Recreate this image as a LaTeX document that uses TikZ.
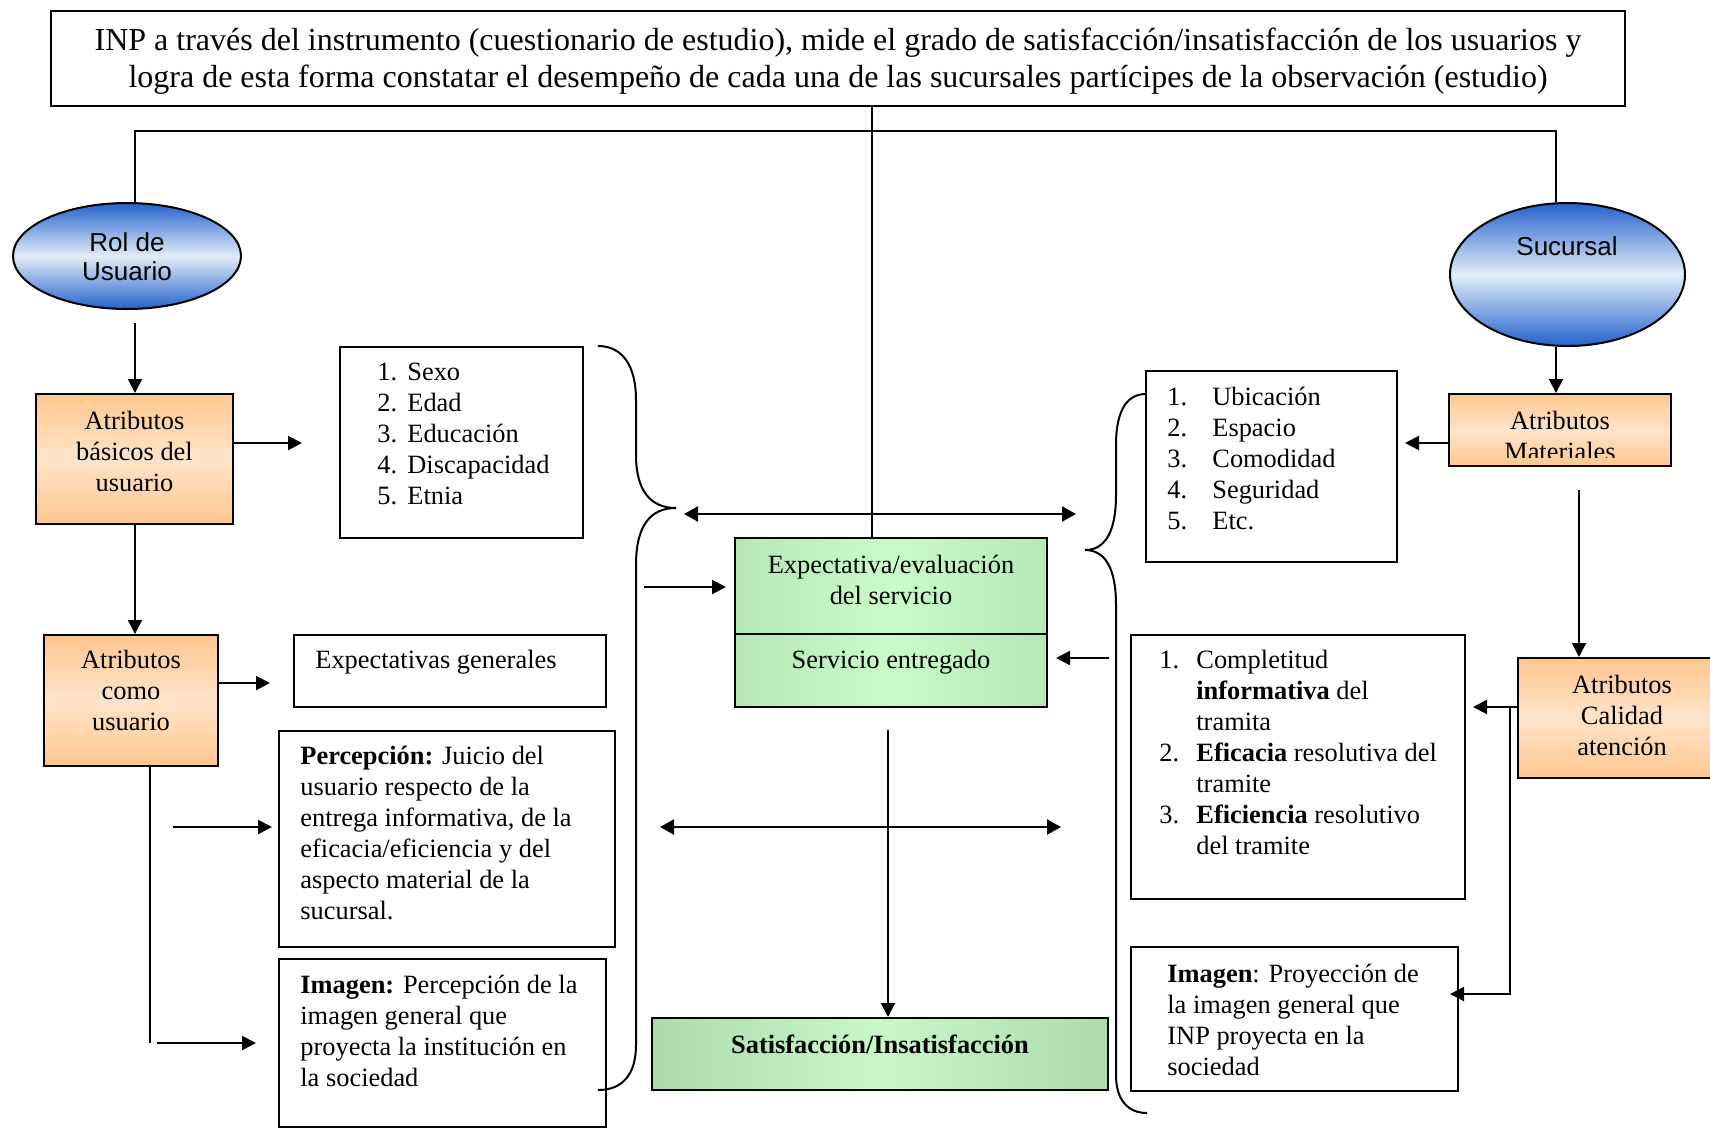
\documentclass[tikz,border=0pt]{standalone}
\usepackage{fontspec}
\setmainfont{Liberation Serif}
\newfontfamily\arialf{Liberation Sans}
\usetikzlibrary{arrows.meta,fit,shapes.geometric}

\definecolor{eblue}{HTML}{2462CC}
\definecolor{elight}{HTML}{E2EDF8}
\definecolor{oedge}{HTML}{FFC68E}
\definecolor{omid}{HTML}{FFE4CA}
\definecolor{gA}{HTML}{C8FBC8}
\definecolor{gB}{HTML}{B6E8B6}
\definecolor{sA}{HTML}{ACDBAC}
\definecolor{sB}{HTML}{C8F8C8}

\newcommand\fs{\fontsize{13.2pt}{15.5pt}\selectfont}
\newcommand\fstop{\fontsize{16pt}{18.5pt}\selectfont}
\newcommand\fsans{\arialf\fontsize{13pt}{14.5pt}\selectfont}

\begin{document}
\begin{tikzpicture}[x=0.5pt,y=-0.5pt,
  box/.style={draw, line width=1pt, inner sep=0pt},
  txt/.style={inner sep=0pt, font=\fs, align=left},
  ctxt/.style={inner sep=0pt, font=\fs, align=center},
  ln/.style={line width=1pt},
  arr/.style={line width=1pt, -{Triangle[length=7pt,width=7pt]}},
  darr/.style={line width=1pt, {Triangle[length=7pt,width=7.5pt]}-{Triangle[length=7pt,width=7.5pt]}},
  orangebox/.style={box, top color=oedge, bottom color=oedge, middle color=omid},
  greenbox/.style={box, left color=gB, right color=gB, middle color=gA},
  satbox/.style={box, left color=sA, right color=sA, middle color=sB},
  ell/.style={ellipse, draw, line width=1pt, inner sep=0pt, top color=eblue, bottom color=eblue, middle color=elight},
  bracel/.style={line width=1pt}
]
\clip (0,0) rectangle (1710,1132);
\fill[white] (0,0) rectangle (1710,1132);

% ---------- top box ----------
\node[box, fit={(51,11) (1625,106)}] (top) {};
\node[inner sep=0pt, font=\fstop, align=center, anchor=north] (toptxt) at (838,24.1)
  {\strut INP a través del instrumento (cuestionario de estudio), mide el grado de satisfacción/insatisfacción de los usuarios y\\
   logra de esta forma constatar el desempeño de cada una de las sucursales partícipes de la observación (estudio)};

% ---------- ellipses ----------
\node[ell, minimum width=114pt, minimum height=53pt] (rol) at (127,256) {};
\node[inner sep=0pt, font=\fsans, align=center, anchor=north] (roltxt) at (127,230.7) {\strut Rol de\\Usuario};
\node[ell, minimum width=117.5pt, minimum height=71.5pt] (suc) at (1567.5,274.5) {};
\node[inner sep=0pt, font=\fsans, anchor=base] (suctxt) at (1567,255) {Sucursal};

% ---------- orange boxes ----------
\node[orangebox, fit={(36,394) (233,524)}] (b1) {};
\node[ctxt, anchor=north] (b1txt) at (134.5,407.3) {\strut Atributos\\básicos del\\usuario};
\node[orangebox, fit={(44,635) (218,766)}] (b2) {};
\node[ctxt, anchor=north] (b2txt) at (131,646.3) {\strut Atributos\\como\\usuario};
\node[orangebox, fit={(1449,394) (1671,466)}] (mat) {};
\begin{scope}
  \clip (1449,394) rectangle (1671,457);
  \node[ctxt, anchor=north] (mattxt) at (1560,407.3) {\strut Atributos\\Materiales};
\end{scope}
\node[orangebox, fit={(1518,658) (1726,778)}] (cal) {};
\node[ctxt, anchor=north] (caltxt) at (1622,671.3) {\strut Atributos\\Calidad\\atención};

% ---------- left white boxes ----------
\node[box, fit={(340,347) (583,538)}] (sexo) {};
\node[txt, anchor=north west] (sexotxt) at (377,358.3)
  {\strut\makebox[15pt][l]{1.}Sexo\\\makebox[15pt][l]{2.}Edad\\\makebox[15pt][l]{3.}Educación\\\makebox[15pt][l]{4.}Discapacidad\\\makebox[15pt][l]{5.}Etnia};
\node[box, fit={(294,635) (606,707)}] (exgen) {};
\node[inner sep=0pt, font=\fs, anchor=base west] (exgentxt) at (315,668) {Expectativas generales};
\node[box, fit={(279,731) (615,947)}] (perc) {};
\node[txt, anchor=north west] (perctxt) at (300,742.3)
  {\strut\textbf{Percepción:} Juicio del\\usuario respecto de la\\entrega informativa, de la\\eficacia/eficiencia y del\\aspecto material de la\\sucursal.};
\node[box, fit={(279,959) (606,1127)}] (img1) {};
\node[txt, anchor=north west] (img1txt) at (300,971.3)
  {\strut\textbf{Imagen:} Percepción de la\\imagen general que\\proyecta la institución en\\la sociedad};

% ---------- right white boxes ----------
\node[box, fit={(1146,371) (1397,562)}] (ubic) {};
\node[txt, anchor=north west] (ubictxt) at (1167,383.3)
  {\strut\makebox[22.5pt][l]{1.}Ubicación\\\makebox[22.5pt][l]{2.}Espacio\\\makebox[22.5pt][l]{3.}Comodidad\\\makebox[22.5pt][l]{4.}Seguridad\\\makebox[22.5pt][l]{5.}Etc.};
\node[box, fit={(1131,635) (1465,899)}] (comp) {};
\node[txt, anchor=north west] (comptxt) at (1159,646.3)
  {\strut\makebox[18.5pt][l]{1.}Completitud\\\hspace*{18.5pt}\textbf{informativa} del\\\hspace*{18.5pt}tramita\\
   \makebox[18.5pt][l]{2.}\textbf{Eficacia} resolutiva del\\\hspace*{18.5pt}tramite\\
   \makebox[18.5pt][l]{3.}\textbf{Eficiencia} resolutivo\\\hspace*{18.5pt}del tramite};
\node[box, fit={(1131,947) (1458,1091)}] (img2) {};
\node[txt, anchor=north west] (img2txt) at (1167,960.3)
  {\strut\textbf{Imagen}: Proyección de\\la imagen general que\\INP proyecta en la\\sociedad};

% ---------- green boxes ----------
\node[greenbox, fit={(735,538) (1047,634)}] (exp) {};
\node[ctxt, anchor=north] (exptxt) at (891,551.3) {\strut Expectativa/evaluación\\del servicio};
\node[greenbox, fit={(735,634) (1047,707)}] (serv) {};
\node[inner sep=0pt, font=\fs, anchor=base] (servtxt) at (891,668) {Servicio entregado};
\node[satbox, fit={(652,1018) (1108,1090)}] (sat) {};
\node[inner sep=0pt, font=\fs\bfseries, anchor=base] (sattxt) at (880,1053) {Satisfacción/Insatisfacción};

% ---------- junction coordinates ----------
\coordinate (jc) at (872,131);
\coordinate (jl) at (135,131);
\coordinate (jr) at (1556,131);
\coordinate (a1) at (302,443);
\coordinate (a2) at (270,683);
\coordinate (v1) at (150,1043);
\coordinate (a3s) at (157,1043);
\coordinate (a3e) at (256,1043);
\coordinate (a4s) at (173,827);
\coordinate (a4e) at (272,827);
\coordinate (d1l) at (684,514);
\coordinate (d1r) at (1076,514);
\coordinate (a5s) at (644,587);
\coordinate (a6s) at (1109,658);
\coordinate (a7s) at (888,730);
\coordinate (d2l) at (660,827);
\coordinate (d2r) at (1061,827);
\coordinate (a8) at (1405,443);
\coordinate (a9s) at (1579,490);
\coordinate (a10) at (1473,707);
\coordinate (j2) at (1510,707);
\coordinate (j3) at (1510,994);
\coordinate (a11) at (1450,994);

% ---------- connectors ----------
\draw[ln] (top.south -| jc) -- (exp.north -| jc);
\draw[ln] (rol.north -| jl) -- (jl) -- (jr) -- (suc.north -| jr);
\draw[arr, shorten <=6.5pt] (rol.south -| jl) -- (b1.north -| jl);
\draw[arr] (b1.east |- a1) -- (a1);
\draw[arr] (b1.south -| jl) -- (b2.north -| jl);
\draw[arr] (b2.east |- a2) -- (a2);
\draw[ln] (b2.south -| v1) -- (v1);
\draw[arr] (a3s) -- (a3e);
\draw[arr] (a4s) -- (a4e);
\draw[darr] (d1l) -- (d1r);
\draw[arr, shorten >=4pt] (a5s) -- (exp.west |- a5s);
\draw[arr, shorten >=4pt] (a6s) -- (serv.east |- a6s);
\draw[arr] (a7s) -- (sat.north -| a7s);
\draw[darr] (d2l) -- (d2r);
\draw[arr] (suc.south -| jr) -- (mat.north -| jr);
\draw[arr] (mat.west |- a8) -- (a8);
\draw[arr] (a9s) -- (cal.north -| a9s);
\draw[arr] (cal.west |- a10) -- (a10);
\draw[arr] (j2) -- (j3) -- (a11);

% ---------- braces ----------
\draw[bracel] (598,346) .. controls (622,346) and (636,365) .. (636,400)
  -- (636,455) .. controls (636,490) and (650,508) .. (676,508)
  .. controls (650,508) and (636,526) .. (636,565)
  -- (636,1045) .. controls (636,1075) and (622,1090) .. (598,1090);
\draw[bracel] (1146,394) .. controls (1126,394) and (1116,412) .. (1116,445)
  -- (1116,495) .. controls (1116,532) and (1105,550) .. (1085,550)
  .. controls (1105,550) and (1116,568) .. (1116,605)
  -- (1116,1075) .. controls (1116,1100) and (1128,1113) .. (1147,1113);
\end{tikzpicture}
\end{document}
